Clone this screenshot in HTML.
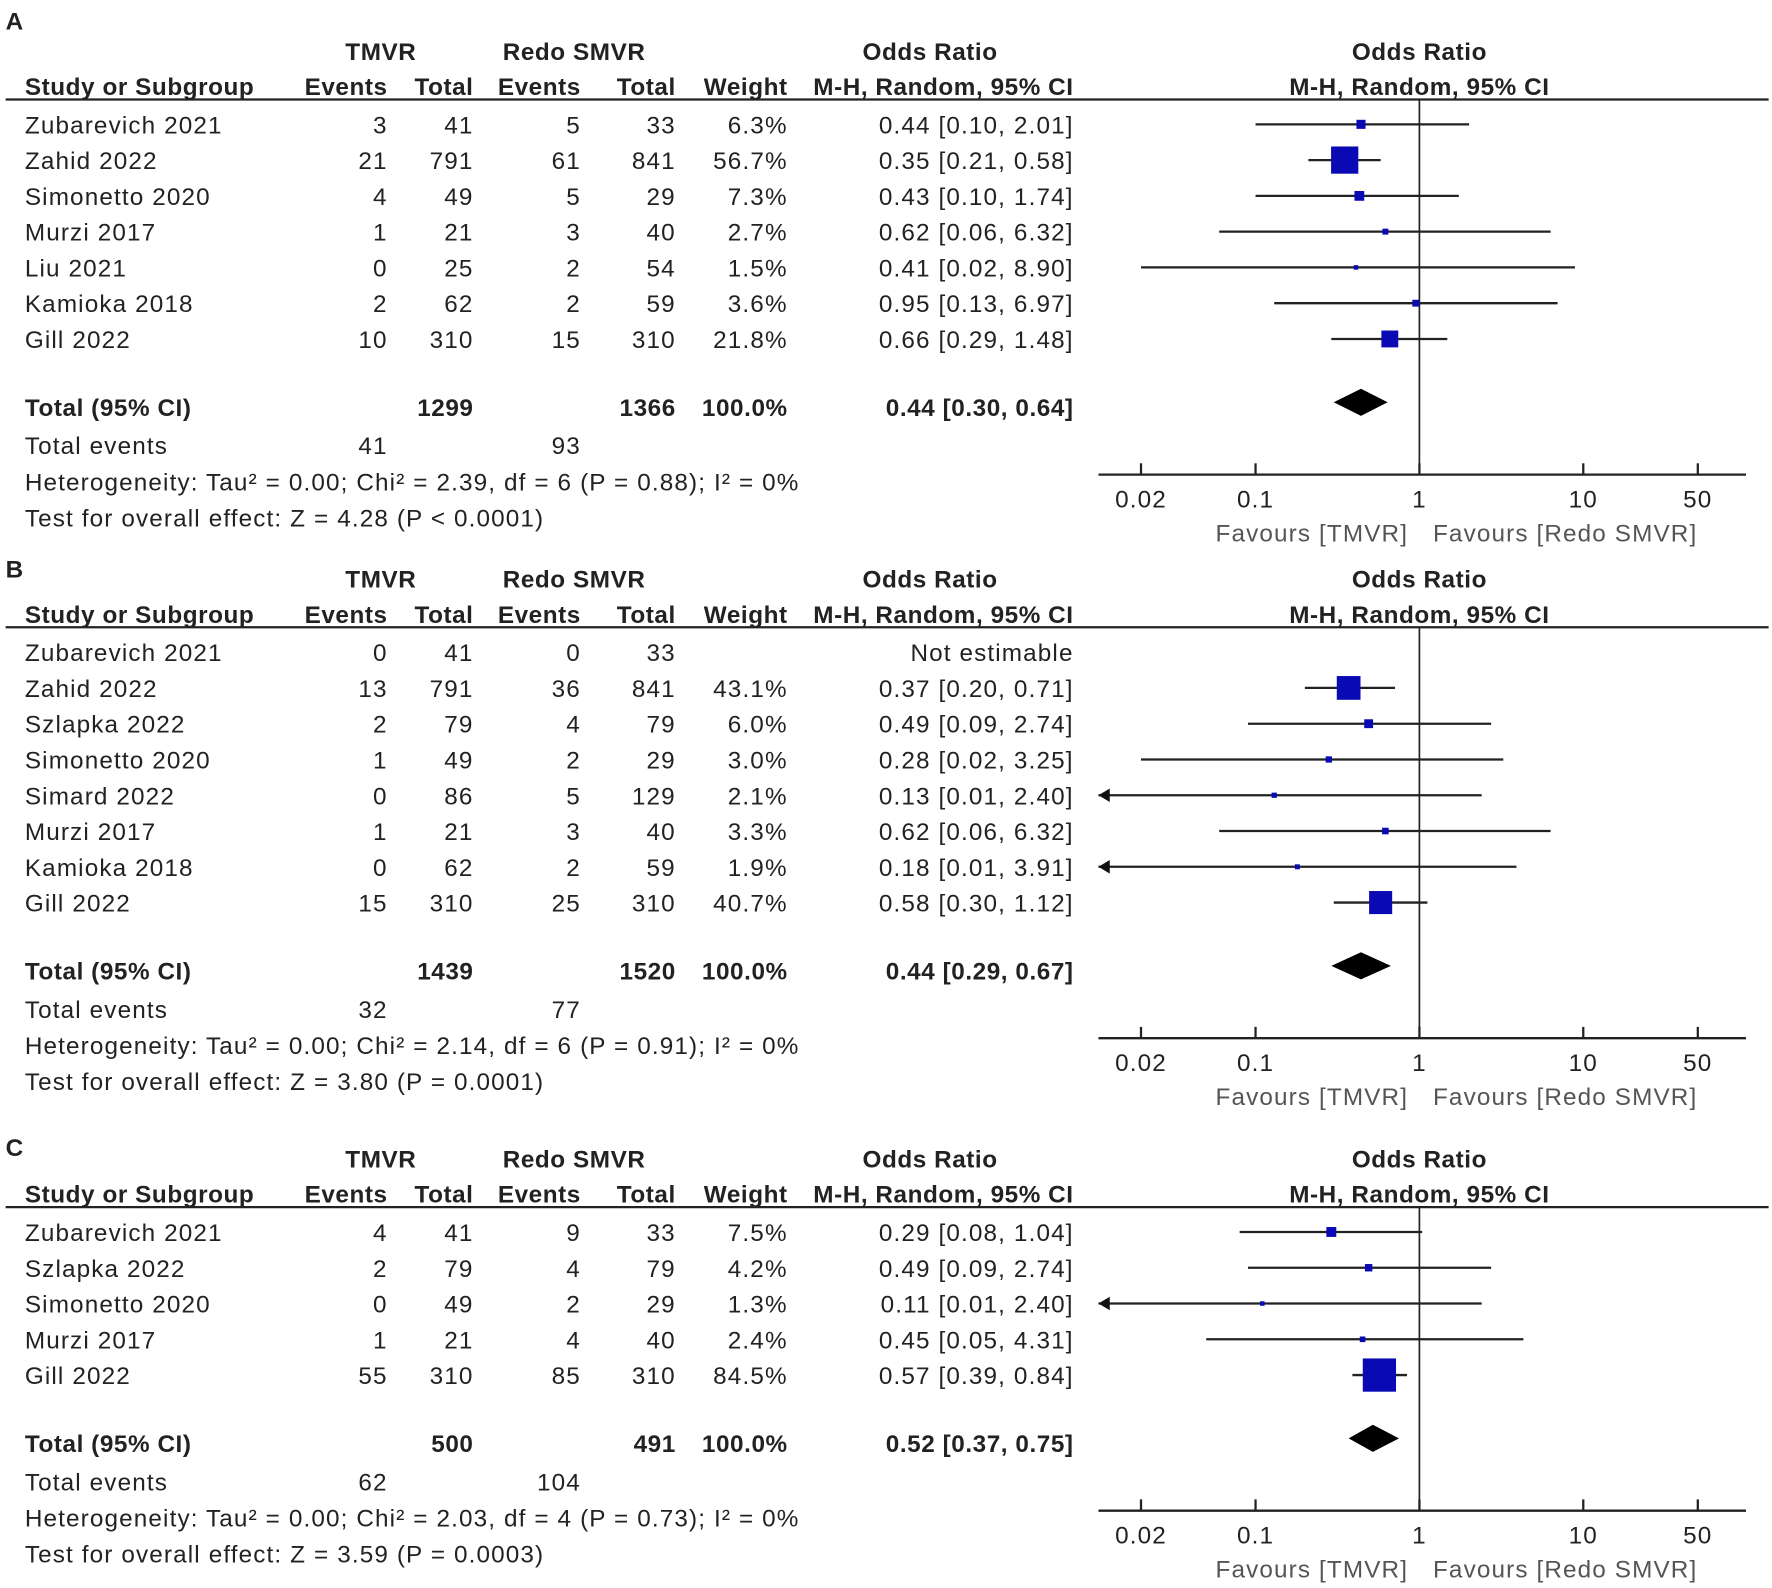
<!DOCTYPE html>
<html><head><meta charset="utf-8"><style>
html,body{margin:0;padding:0;background:#fff;}
svg{display:block;}
text{font-family:"Liberation Sans",Arial,sans-serif;font-size:21.5px;fill:#222;letter-spacing:1px;}
.b{font-weight:bold;letter-spacing:0.5px;}
</style></head><body>
<svg id="fig" width="1772" height="1588" viewBox="0 0 1568 1405" preserveAspectRatio="none" xmlns="http://www.w3.org/2000/svg"></svg>
<script>
// Panel A data
const studiesA=["Zubarevich 2021","Zahid 2022","Simonetto 2020","Murzi 2017","Liu 2021","Kamioka 2018","Gill 2022"];
const evTA=[3,21,4,1,0,2,10];const totTA=[41,791,49,21,25,62,310];
const evRA=[5,61,5,3,2,2,15];const totRA=[33,841,29,40,54,59,310];
const wA=[6.3,56.7,7.3,2.7,1.5,3.6,21.8];
const orA=[0.44,0.35,0.43,0.62,0.41,0.95,0.66];
const loA=[0.10,0.21,0.10,0.06,0.02,0.13,0.29];
const hiA=[2.01,0.58,1.74,6.32,8.90,6.97,1.48];
const totalA=[0.44,0.30,0.64];const sumA=[1299,1366,41,93];
// Panel B data
const studiesB=["Zubarevich 2021","Zahid 2022","Szlapka 2022","Simonetto 2020","Simard 2022","Murzi 2017","Kamioka 2018","Gill 2022"];
const evTB=[0,13,2,1,0,1,0,15];const totTB=[41,791,79,49,86,21,62,310];
const evRB=[0,36,4,2,5,3,2,25];const totRB=[33,841,79,29,129,40,59,310];
const wB=[null,43.1,6.0,3.0,2.1,3.3,1.9,40.7];
const orB=[null,0.37,0.49,0.28,0.13,0.62,0.18,0.58];
const loB=[null,0.20,0.09,0.02,0.01,0.06,0.01,0.30];
const hiB=[null,0.71,2.74,3.25,2.40,6.32,3.91,1.12];
const totalB=[0.44,0.29,0.67];const sumB=[1439,1520,32,77];
// Panel C data
const studiesC=["Zubarevich 2021","Szlapka 2022","Simonetto 2020","Murzi 2017","Gill 2022"];
const evTC=[4,2,0,1,55];const totTC=[41,79,49,21,310];
const evRC=[9,4,2,4,85];const totRC=[33,79,29,40,310];
const wC=[7.5,4.2,1.3,2.4,84.5];
const orC=[0.29,0.49,0.11,0.45,0.57];
const loC=[0.08,0.09,0.01,0.05,0.39];
const hiC=[1.04,2.74,2.40,4.31,0.84];
const totalC=[0.52,0.37,0.75];const sumC=[500,491,62,104];
const hetA=["Heterogeneity: Tau² = 0.00; Chi² = 2.39, df = 6 (P = 0.88); I² = 0%","Test for overall effect: Z = 4.28 (P < 0.0001)"];
const hetB=["Heterogeneity: Tau² = 0.00; Chi² = 2.14, df = 6 (P = 0.91); I² = 0%","Test for overall effect: Z = 3.80 (P = 0.0001)"];
const hetC=["Heterogeneity: Tau² = 0.00; Chi² = 2.03, df = 4 (P = 0.73); I² = 0%","Test for overall effect: Z = 3.59 (P = 0.0003)"];
const tickVals=[0.02,0.1,1,10,50];const tickLabels=["0.02","0.1","1","10","50"];

const svg=document.getElementById('fig');const NS="http://www.w3.org/2000/svg";
function el(tag,attrs,parent){const e=document.createElementNS(NS,tag);for(const k in attrs)e.setAttribute(k,attrs[k]);(parent||svg).appendChild(e);return e;}
function txt(s,x,y,anchor,cls,parent){const t=el('text',{x:x,y:y,'text-anchor':anchor||'start'},parent);if(cls)t.setAttribute('class',cls);t.textContent=s;return t;}
const X0=1256,DEC=145,XMIN=972,XMAX=1545;
function xs(v){return X0+DEC*Math.log10(v);}
function f2(v){return v.toFixed(2);}
function ci(o,l,h){return f2(o)+" ["+f2(l)+", "+f2(h)+"]";}

function panel(label,labelY,off,st,eT,tT,eR,tR,w,or,lo,hi,tot,sum,het){
  const g=el('g',{});
  
  
  const L=txt(label,5,labelY,'start','b',g);
  const h1=off+53,h2=off+84;
  [["TMVR",337],["Redo SMVR",508],["Odds Ratio",823],["Odds Ratio",1256]].forEach(a=>{const t=txt(a[0],a[1],h1,'middle','b',g);});
  txt("Study or Subgroup",22,h2,'start','b',g);
  [["Events",343],["Total",419],["Events",514],["Total",598],["Weight",697],["M-H, Random, 95% CI",950]].forEach(a=>{const t=txt(a[0],a[1],h2,'end','b',g);});
  txt("M-H, Random, 95% CI",1256,h2,'middle','b',g);
  const hl=el('line',{x1:5,x2:1565,y1:off+88,y2:off+88,stroke:'#222','stroke-width':2},g);
  
  const n=st.length,rowH=31.65,r0=off+110;
  const totY=r0+(n-1)*rowH+60,axY=totY+60;
  const vl=el('line',{x1:X0,x2:X0,y1:off+88,y2:axY,stroke:'#222','stroke-width':1.5},g);
  
  for(let i=0;i<n;i++){
    const y=r0+i*rowH,ty=y+8;
    const r=el('g',{},g);
    
    
    txt(st[i],22,ty,'start',null,r);
    txt(String(eT[i]),343,ty,'end',null,r);txt(String(tT[i]),419,ty,'end',null,r);
    txt(String(eR[i]),514,ty,'end',null,r);txt(String(tR[i]),598,ty,'end',null,r);
    if(w[i]==null){txt("Not estimable",950,ty,'end',null,r);continue;}
    txt(w[i].toFixed(1)+"%",697,ty,'end',null,r);
    txt(ci(or[i],lo[i],hi[i]),950,ty,'end',null,r);
    let x1=xs(lo[i]),x2=xs(hi[i]);const arrowL=x1<XMIN,arrowR=x2>XMAX;
    x1=Math.max(x1,XMIN);x2=Math.min(x2,XMAX);
    const ln=el('line',{x1:x1,x2:x2,y1:y,y2:y,stroke:'#222','stroke-width':2},r);
    
    if(arrowL){const a=el('path',{d:`M${XMIN},${y} l10,-6 l0,12 z`,fill:'#111'},r);}
    if(arrowR){const a=el('path',{d:`M${XMAX},${y} l-10,-6 l0,12 z`,fill:'#111'},r);}
    const s=Math.max(4,Math.sqrt(w[i])*3.2);
    const sq=el('rect',{x:xs(or[i])-s/2,y:y-s/2,width:s,height:s,fill:'#0a0ab4'},r);
    
  }
  const T=el('g',{},g);
  txt("Total (95% CI)",22,totY+8,'start','b',T);
  txt(String(sum[0]),419,totY+8,'end','b',T);txt(String(sum[1]),598,totY+8,'end','b',T);
  txt("100.0%",697,totY+8,'end','b',T);txt(ci(tot[0],tot[1],tot[2]),950,totY+8,'end','b',T);
  const dm=el('path',{d:`M${xs(tot[1])},${totY-4} L${xs(tot[0])},${totY-16} L${xs(tot[2])},${totY-4} L${xs(tot[0])},${totY+8} Z`,fill:'#000'},T);
  
  const E=el('g',{},g);
  txt("Total events",22,totY+42,'start',null,E);txt(String(sum[2]),343,totY+42,'end',null,E);txt(String(sum[3]),514,totY+42,'end',null,E);
  const ht=txt(het[0],22,totY+74,'start',null,g);
  const ot=txt(het[1],22,totY+106,'start',null,g);
  const ax=el('g',{},g);
  el('line',{x1:XMIN,x2:XMAX,y1:axY,y2:axY,stroke:'#222','stroke-width':2},ax);
  tickVals.forEach((v,k)=>{el('line',{x1:xs(v),x2:xs(v),y1:axY-10,y2:axY,stroke:'#222','stroke-width':2},ax);
    const t=txt(tickLabels[k],xs(v),axY+29,'middle',null,ax);});
  const fl=txt("Favours [TMVR]",1246,axY+59,'end',null,ax);fl.style.fill='#555';
  const fr=txt("Favours [Redo SMVR]",1268,axY+59,'start',null,ax);fr.style.fill='#555';
}
panel("A",26,0,studiesA,evTA,totTA,evRA,totRA,wA,orA,loA,hiA,totalA,sumA,hetA);
panel("B",511,467,studiesB,evTB,totTB,evRB,totRB,wB,orB,loB,hiB,totalB,sumB,hetB);
panel("C",1023,980,studiesC,evTC,totTC,evRC,totRC,wC,orC,loC,hiC,totalC,sumC,hetC);
</script>
</body></html>
